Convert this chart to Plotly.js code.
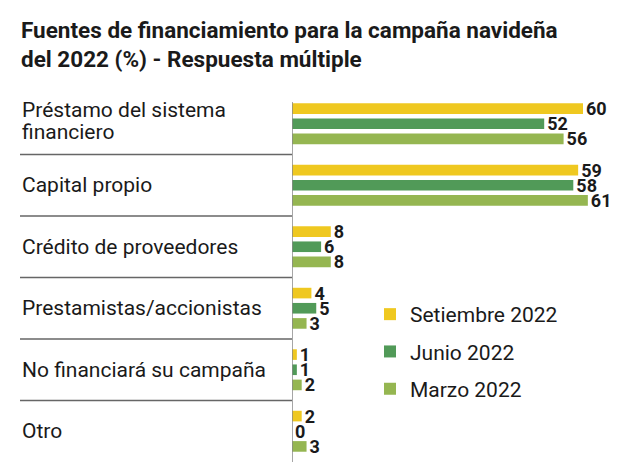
<!DOCTYPE html>
<html>
<head>
<meta charset="utf-8">
<script src="https://cdn.plot.ly/plotly-3.0.1.min.js"></script>
<style>html,body{margin:0;padding:0;background:#fff;}#chart{width:640px;height:467px;}</style>
</head>
<body>
<div id="chart"></div>
<script>
const categories = ["Préstamo del sistema<br>financiero", "Capital propio", "Crédito de proveedores", "Prestamistas/accionistas", "No financiará su campaña", "Otro"];
const seriesNames = ["Setiembre 2022", "Junio 2022", "Marzo 2022"];
const setiembre = [60, 59, 8, 4, 1, 2];
const junio = [52, 58, 6, 5, 1, 0];
const marzo = [56, 61, 8, 3, 2, 3];
const titleText = "Fuentes de financiamiento para la campaña navideña<br>del 2022 (%) - Respuesta múltiple";
const colors = ["#efc820", "#519a58", "#95b651"];

const L = 292, R = 20, T = 93, B = 5, W = 640, H = 467;
const pw = W - L - R, ph = H - T - B;
const xmax = pw / 4.85;
const FONT = "Roboto, 'Open Sans', sans-serif";

const values = [setiembre, junio, marzo];
const traces = values.map((v, i) => ({
  type: 'bar', orientation: 'h', name: seriesNames[i],
  y: categories, x: v,
  marker: {color: colors[i]},
  text: v.map(String), textposition: 'outside', cliponaxis: false, constraintext: 'none',
  textfont: {family: FONT, size: 18, color: '#1a1a1a', weight: 'bold'},
  legendgroup: 'g' + i, hoverinfo: 'x'
}));

const annotations = [];
categories.forEach(c => {
  const lines = c.split('<br>');
  const shifts = lines.length === 1 ? [0] : [14, -8];
  lines.forEach((ln, j) => annotations.push({
    xref: 'paper', yref: 'y', x: (20 - L) / pw, y: c, yshift: shifts[j],
    xanchor: 'left', yanchor: 'middle', align: 'left', showarrow: false,
    text: ln, font: {family: FONT, size: 21, color: '#1a1a1a'}
  }));
});
annotations.push({
  xref: 'paper', yref: 'paper', x: (19 - L) / pw, y: (H - B - 15) / ph,
  xanchor: 'left', yanchor: 'top', align: 'left', showarrow: false,
  text: '<b>' + titleText + '</b>', font: {family: FONT, size: 22.5, color: '#1a1a1a'}
});

const shapes = [];
for (let k = 0; k < categories.length - 1; k++) {
  shapes.push({type: 'line', xref: 'paper', yref: 'y', x0: (20 - L) / pw, x1: 0,
    y0: k + 0.5, y1: k + 0.5, line: {color: '#666', width: 1.3}});
}
shapes.push({type: 'line', xref: 'x', yref: 'paper', x0: 0, x1: 0, y0: 0, y1: 1 - 9 / ph,
  line: {color: '#888', width: 1.5}});

const layout = {
  width: W, height: H,
  margin: {l: L, r: R, t: T, b: B},
  paper_bgcolor: '#fff', plot_bgcolor: '#fff',
  barmode: 'group', bargap: 0.26, bargroupgap: 0.3,
  xaxis: {range: [0, xmax], visible: false, fixedrange: true},
  yaxis: {autorange: 'reversed', showticklabels: false, ticks: '', showgrid: false,
    zeroline: false, showline: false, fixedrange: true},
  shapes: shapes,
  annotations: annotations,
  showlegend: true,
  legend: {x: (370 - L) / pw, xanchor: 'left', y: (H - B - 294) / ph, yanchor: 'top',
    traceorder: 'grouped', tracegroupgap: 7,
    font: {family: FONT, size: 21, color: '#1a1a1a'}, bgcolor: 'rgba(0,0,0,0)'},
  font: {family: FONT}
};

Plotly.newPlot('chart', traces, layout, {displayModeBar: false, staticPlot: true});
</script>
</body>
</html>
